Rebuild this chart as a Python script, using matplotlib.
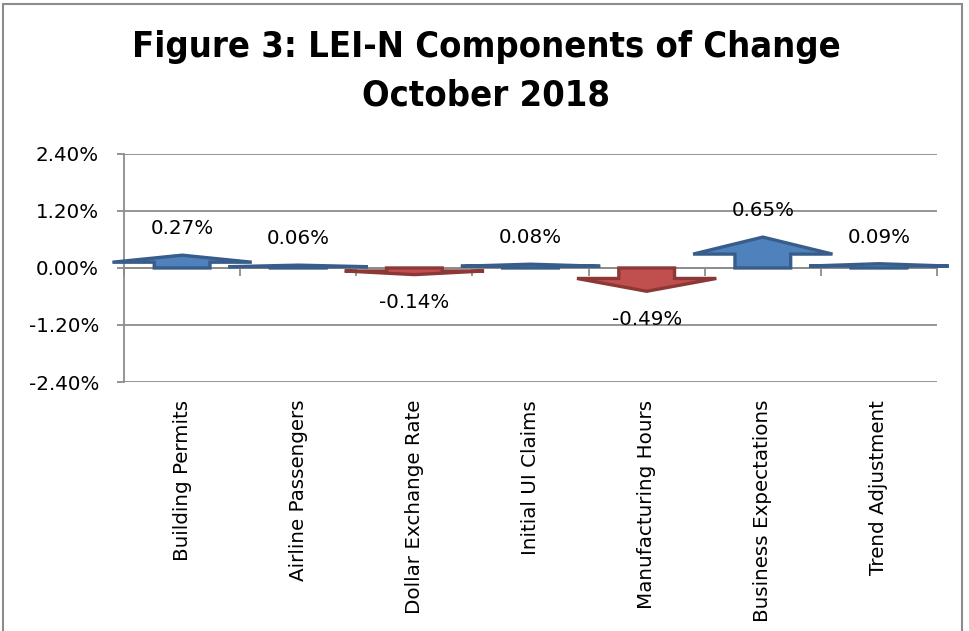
import numpy as np
import matplotlib.pyplot as plt
from matplotlib.patches import Polygon, Rectangle
from matplotlib.ticker import FixedLocator, PercentFormatter
import matplotlib.transforms as mtransforms

plt.rcParams['axes.unicode_minus'] = False

categories = ['Building Permits', 'Airline Passengers', 'Dollar Exchange Rate',
              'Initial UI Claims', 'Manufacturing Hours', 'Business Expectations',
              'Trend Adjustment']
values = np.array([0.27, 0.06, -0.14, 0.08, -0.49, 0.65, 0.09])  # percent
yticks = [-2.40, -1.20, 0.00, 1.20, 2.40]

fig = plt.figure(figsize=(9.69, 6.31), dpi=100)
ax = fig.add_axes([0.128, 0.3946, 0.839, 0.3614])

ax.set_xlim(-0.5, len(categories) - 0.5)
ax.set_ylim(-2.4, 2.4)

grey = '#8c8c8c'
ax.set_yticks(yticks)
ax.yaxis.set_major_formatter(PercentFormatter(decimals=2))
ax.yaxis.grid(True, color=grey, linewidth=1.3)
ax.set_axisbelow(True)
ax.tick_params(axis='y', length=5, width=1.3, color=grey, pad=13, labelsize=14.3)

for s in ['top', 'right']:
    ax.spines[s].set_visible(False)
ax.spines['left'].set_color(grey)
ax.spines['left'].set_linewidth(1.3)
ax.spines['bottom'].set_position(('data', 0))
ax.spines['bottom'].set_color(grey)
ax.spines['bottom'].set_linewidth(1.3)

# category boundaries as tick marks on the zero line
ax.set_xticks([])
ax.xaxis.set_minor_locator(FixedLocator(np.arange(len(categories) + 1) - 0.5))
ax.tick_params(axis='x', which='minor', length=6, width=1.3, color=grey, direction='out')

# block arrows
shaft_w, head_w, shaft_frac = 0.48, 1.2, 0.45
for i, v in enumerate(values):
    s = v * shaft_frac
    pts = [(i - shaft_w / 2, 0), (i - shaft_w / 2, s), (i - head_w / 2, s), (i, v),
           (i + head_w / 2, s), (i + shaft_w / 2, s), (i + shaft_w / 2, 0)]
    if v >= 0:
        fc, ec = '#4F81BD', '#385D8A'
    else:
        fc, ec = '#C0504D', '#8C3836'
    ax.add_patch(Polygon(pts, closed=True, facecolor=fc, edgecolor=ec,
                         linewidth=2.4, joinstyle='miter', clip_on=False, zorder=3))
    off = 19 if v >= 0 else -20
    ax.annotate(f'{v:.2f}%', (i, v), xytext=(0, off), textcoords='offset points',
                ha='center', va='center', fontsize=14.3, zorder=4)

# category labels below the plot area
trans = mtransforms.blended_transform_factory(ax.transData, ax.transAxes)
for i, c in enumerate(categories):
    ax.text(i, -0.078, c, transform=trans, rotation=90, ha='center', va='top',
            fontsize=14.3)

title_kw = dict(ha='center', va='center', fontsize=26, fontweight='bold',
                family='DejaVu Sans', fontstretch='condensed')
fig.text(0.502, 0.9255, 'Figure 3: LEI-N Components of Change', **title_kw)
fig.text(0.502, 0.849, 'October 2018', **title_kw)

fig.patches.append(Rectangle((3 / 969, -0.05), (962 - 3) / 969, 1.05 - 4 / 631,
                             transform=fig.transFigure, fill=False,
                             edgecolor='#8c8c8c', linewidth=1.5))

fig.savefig('out.png', dpi=100)
